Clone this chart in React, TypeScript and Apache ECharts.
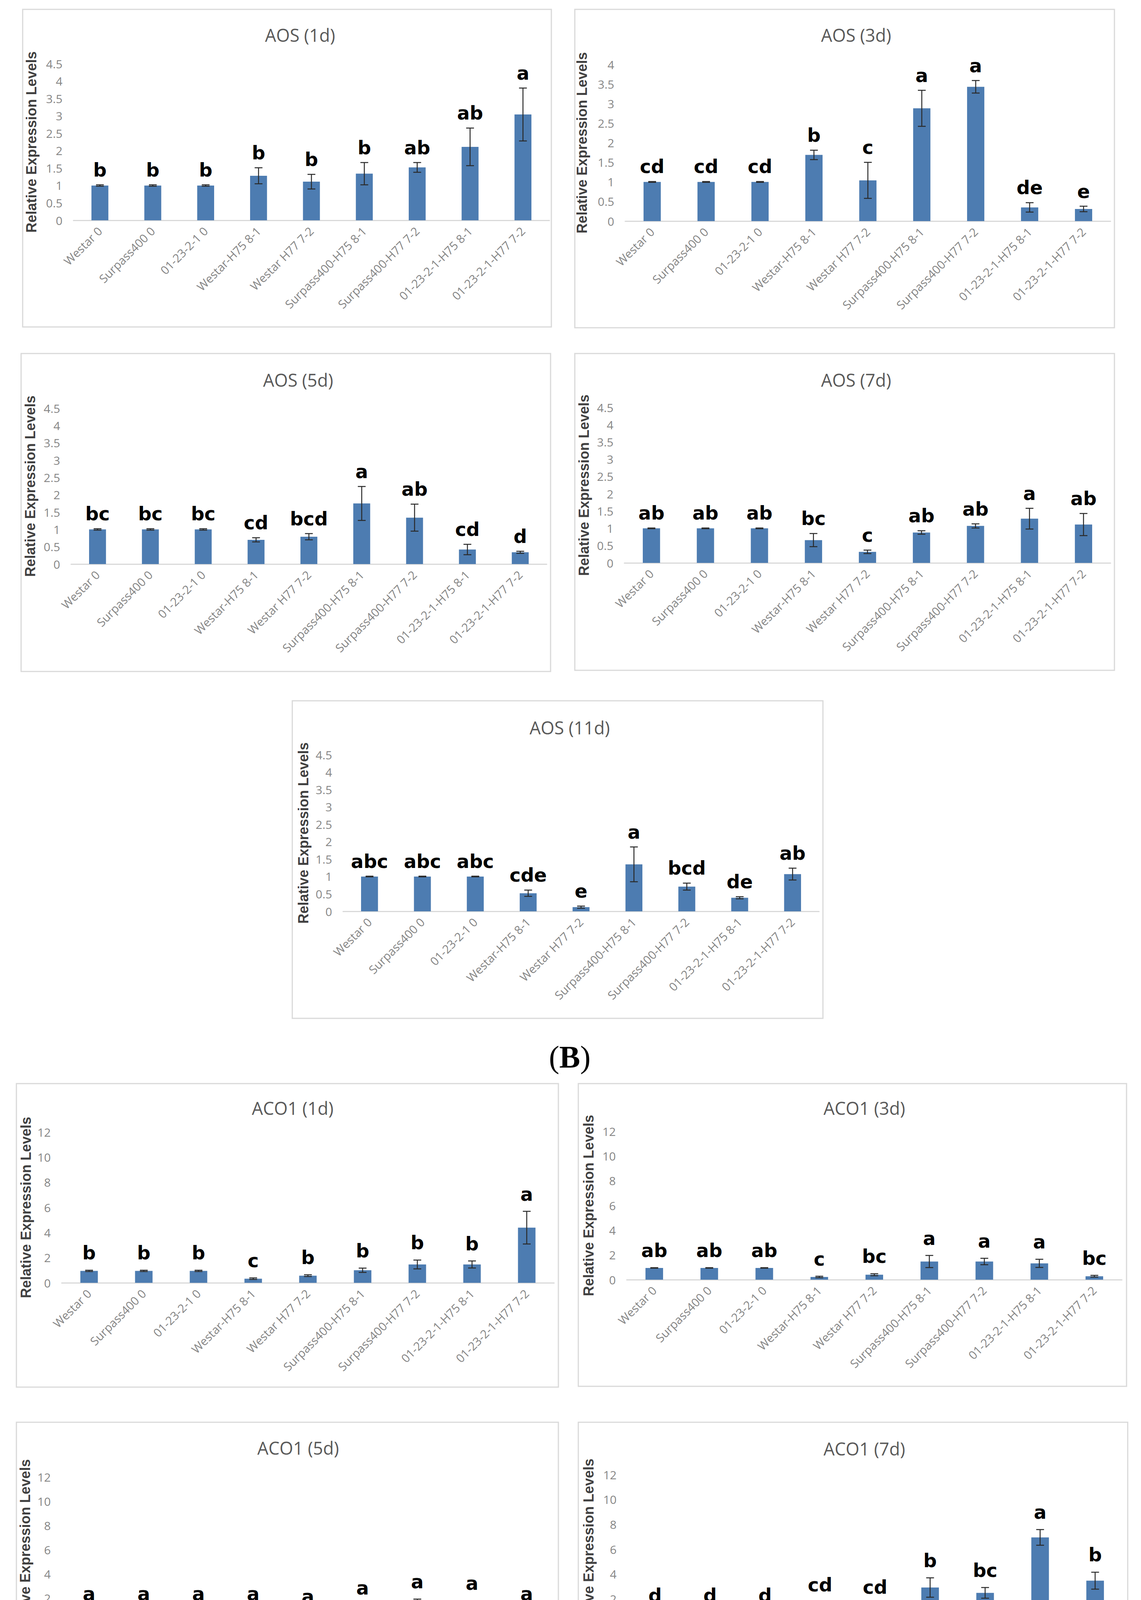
import React, { useEffect, useRef } from 'react';
import * as echarts from 'echarts';

// ---------- data ----------
const categories = [
  'Westar 0',
  'Surpass400 0',
  '01-23-2-1 0',
  'Westar-H75 8-1',
  'Westar H77 7-2',
  'Surpass400-H75 8-1',
  'Surpass400-H77 7-2',
  '01-23-2-1-H75 8-1',
  '01-23-2-1-H77 7-2',
];

const yTitle = 'Relative Expression Levels';

const aos1dMean = [1.0, 1.0, 1.0, 1.28, 1.11, 1.34, 1.52, 2.11, 3.04];
const aos1dErr = [0.02, 0.02, 0.02, 0.23, 0.21, 0.32, 0.14, 0.54, 0.76];
const aos1dLetters = ['b', 'b', 'b', 'b', 'b', 'b', 'ab', 'ab', 'a'];

const aos3dMean = [1.0, 1.0, 1.0, 1.69, 1.04, 2.88, 3.43, 0.35, 0.31];
const aos3dErr = [0.01, 0.01, 0.01, 0.12, 0.46, 0.46, 0.16, 0.12, 0.07];
const aos3dLetters = ['cd', 'cd', 'cd', 'b', 'c', 'a', 'a', 'de', 'e'];

const aos5dMean = [1.0, 1.0, 1.0, 0.7, 0.79, 1.75, 1.34, 0.42, 0.34];
const aos5dErr = [0.02, 0.02, 0.02, 0.06, 0.09, 0.49, 0.39, 0.15, 0.03];
const aos5dLetters = ['bc', 'bc', 'bc', 'cd', 'bcd', 'a', 'ab', 'cd', 'd'];

const aos7dMean = [1.0, 1.0, 1.0, 0.66, 0.32, 0.88, 1.07, 1.28, 1.11];
const aos7dErr = [0.01, 0.01, 0.01, 0.19, 0.05, 0.05, 0.06, 0.3, 0.32];
const aos7dLetters = ['ab', 'ab', 'ab', 'bc', 'c', 'ab', 'ab', 'a', 'ab'];

const aos11dMean = [1.0, 1.0, 1.0, 0.52, 0.12, 1.35, 0.71, 0.39, 1.07];
const aos11dErr = [0.01, 0.01, 0.01, 0.09, 0.03, 0.5, 0.1, 0.03, 0.17];
const aos11dLetters = ['abc', 'abc', 'abc', 'cde', 'e', 'a', 'bcd', 'de', 'ab'];

const aco1dMean = [0.95, 0.95, 0.95, 0.33, 0.57, 1.0, 1.46, 1.46, 4.39];
const aco1dErr = [0.05, 0.05, 0.05, 0.06, 0.07, 0.17, 0.35, 0.28, 1.3];
const aco1dLetters = ['b', 'b', 'b', 'c', 'b', 'b', 'b', 'b', 'a'];

const aco3dMean = [0.95, 0.95, 0.95, 0.22, 0.4, 1.47, 1.47, 1.32, 0.28];
const aco3dErr = [0.02, 0.02, 0.02, 0.06, 0.08, 0.49, 0.26, 0.33, 0.07];
const aco3dLetters = ['ab', 'ab', 'ab', 'c', 'bc', 'a', 'a', 'a', 'bc'];

const aco5dMean = [0.92, 0.92, 0.92, 0.74, 0.55, 1.14, 1.25, 1.33, 0.74];
const aco5dErr = [0.04, 0.04, 0.04, 0.22, 0.19, 0.28, 0.69, 0.48, 0.22];
const aco5dLetters = ['a', 'a', 'a', 'a', 'a', 'a', 'a', 'a', 'a'];

const aco7dMean = [0.87, 0.87, 0.87, 1.32, 1.44, 2.92, 2.49, 6.95, 3.47];
const aco7dErr = [0.04, 0.04, 0.04, 0.43, 0.11, 0.78, 0.43, 0.63, 0.68];
const aco7dLetters = ['d', 'd', 'd', 'cd', 'cd', 'b', 'bc', 'a', 'b'];

const aco11dMean = [1.0, 1.0, 1.0, 1.19, 0.69, 3.65, 0.64, 2.64, 9.32];
const aco11dErr = [0.01, 0.01, 0.01, 0.51, 0.22, 0.33, 0.03, 0.52, 2.17];
const aco11dLetters = ['c', 'c', 'c', 'c', 'c', 'b', 'c', 'bc', 'a'];

const panels = [
  { title: 'AOS (1d)', mean: aos1dMean, err: aos1dErr, letters: aos1dLetters, yMax: 4.5, yStep: 0.5 },
  { title: 'AOS (3d)', mean: aos3dMean, err: aos3dErr, letters: aos3dLetters, yMax: 4, yStep: 0.5 },
  { title: 'AOS (5d)', mean: aos5dMean, err: aos5dErr, letters: aos5dLetters, yMax: 4.5, yStep: 0.5 },
  { title: 'AOS (7d)', mean: aos7dMean, err: aos7dErr, letters: aos7dLetters, yMax: 4.5, yStep: 0.5 },
  { title: 'AOS (11d)', mean: aos11dMean, err: aos11dErr, letters: aos11dLetters, yMax: 4.5, yStep: 0.5 },
  { title: 'ACO1 (1d)', mean: aco1dMean, err: aco1dErr, letters: aco1dLetters, yMax: 12, yStep: 2 },
  { title: 'ACO1 (3d)', mean: aco3dMean, err: aco3dErr, letters: aco3dLetters, yMax: 12, yStep: 2 },
  { title: 'ACO1 (5d)', mean: aco5dMean, err: aco5dErr, letters: aco5dLetters, yMax: 12, yStep: 2 },
  { title: 'ACO1 (7d)', mean: aco7dMean, err: aco7dErr, letters: aco7dLetters, yMax: 12, yStep: 2 },
  { title: 'ACO1 (11d)', mean: aco11dMean, err: aco11dErr, letters: aco11dLetters, yMax: 12, yStep: 2 },
];

const figureLabels = [
  { letter: 'B' },
  { letter: 'C' },
];

// ---------- layout (pixels) ----------
const PAGE_W = 2920;
const PAGE_H = 5436;

// box: panel frame [x1,y1,x2,y2]; plot: grid [x1,y1,x2,y2]; titleAt: [cx, cy]
const frames = [
  { box: [58, 24, 1411, 837], plot: [188, 163, 1406, 564], titleAt: [768, 89], nameOffset: 109, letterLift: 24 },
  { box: [1471, 24, 2852, 839], plot: [1600, 165, 2842, 566], titleAt: [2191, 89], nameOffset: 112, letterLift: 24 },
  { box: [54, 905, 1409, 1719], plot: [182, 1045, 1399, 1444], titleAt: [763, 972], nameOffset: 106, letterLift: 24 },
  { box: [1471, 905, 2852, 1716], plot: [1598, 1043, 2842, 1441], titleAt: [2191, 972], nameOffset: 105, letterLift: 24 },
  { box: [748, 1794, 2106, 2607], plot: [878, 1932, 2096, 2333], titleAt: [1458, 1862], nameOffset: 103, letterLift: 24 },
  { box: [42, 2774, 1429, 3551], plot: [158, 2898, 1418, 3284], titleAt: [749, 2836], nameOffset: 93, letterLift: 30 },
  { box: [1480, 2774, 2883, 3549], plot: [1604, 2896, 2871, 3276], titleAt: [2212, 2836], nameOffset: 99, letterLift: 30 },
  { box: [42, 3641, 1429, 4415], plot: [158, 3781, 1418, 4154], titleAt: [763, 3706], nameOffset: 95, letterLift: 30 },
  { box: [1480, 3641, 2886, 4418], plot: [1606, 3775, 2873, 4157], titleAt: [2212, 3708], nameOffset: 101, letterLift: 30 },
  { box: [738, 4509, 2131, 5289], plot: [864, 4645, 2122, 5023], titleAt: [1470, 4573], nameOffset: 97, letterLift: 30 },
];

const figureLabelAt = [
  [1458, 2706],
  [1468, 5373],
];

const BAR_COLOR = '#4d7cb1';
const ERR_COLOR = '#2a2a2a';
const FRAME_COLOR = '#d9d9d9';
const LETTER_SIZE = 48;

function buildOption() {
  const grid = frames.map((f) => ({
    left: f.plot[0],
    top: f.plot[1],
    width: f.plot[2] - f.plot[0],
    height: f.plot[3] - f.plot[1],
    containLabel: false,
  }));

  const xAxis = panels.map((p, i) => ({
    type: 'category',
    gridIndex: i,
    data: categories,
    axisLine: { show: true, lineStyle: { color: FRAME_COLOR, width: 3 } },
    axisTick: { show: false },
    axisLabel: {
      interval: 0,
      rotate: 45,
      margin: 22,
      color: '#858585',
      fontSize: 30,
      fontFamily: 'Open Sans',
    },
    splitLine: { show: false },
  }));

  const yAxis = panels.map((p, i) => ({
    type: 'value',
    gridIndex: i,
    min: 0,
    max: p.yMax,
    interval: p.yStep,
    axisLine: { show: false },
    axisTick: { show: false },
    splitLine: { show: false },
    axisLabel: {
      margin: 28,
      color: '#858585',
      fontSize: 30,
      fontFamily: 'Open Sans',
    },
    name: yTitle,
    nameLocation: 'middle',
    nameGap: frames[i].nameOffset - 19,
    nameTextStyle: {
      fontSize: 36,
      fontWeight: 'bold',
      color: '#404040',
      fontFamily: 'Liberation Sans',
    },
  }));

  const series: any[] = [];
  panels.forEach((p, i) => {
    series.push({
      type: 'bar',
      xAxisIndex: i,
      yAxisIndex: i,
      data: p.mean,
      barWidth: '32%',
      itemStyle: { color: BAR_COLOR },
      silent: true,
      z: 2,
    });
    const lift = frames[i].letterLift;
    series.push({
      type: 'custom',
      xAxisIndex: i,
      yAxisIndex: i,
      data: p.mean.map((m, j) => [j, m, p.err[j]]),
      encode: { x: 0, y: 1 },
      silent: true,
      z: 3,
      clip: false,
      renderItem: (params: any, api: any) => {
        const x = api.value(0);
        const m = api.value(1);
        const e = api.value(2);
        const top = api.coord([x, m + e]);
        const bot = api.coord([x, Math.max(0, m - e)]);
        const cap = 10;
        const lineStyle = { stroke: ERR_COLOR, lineWidth: 2.5 };
        const letter = p.letters[params.dataIndex];
        return {
          type: 'group',
          children: [
            { type: 'line', shape: { x1: top[0], y1: top[1], x2: bot[0], y2: bot[1] }, style: lineStyle },
            { type: 'line', shape: { x1: top[0] - cap, y1: top[1], x2: top[0] + cap, y2: top[1] }, style: lineStyle },
            { type: 'line', shape: { x1: bot[0] - cap, y1: bot[1], x2: bot[0] + cap, y2: bot[1] }, style: lineStyle },
            {
              type: 'text',
              x: top[0],
              y: top[1] - lift - LETTER_SIZE * 0.3,
              style: {
                text: letter,
                fill: '#000000',
                font: `bold ${LETTER_SIZE}px "DejaVu Sans"`,
                align: 'center',
                verticalAlign: 'middle',
                textAlign: 'center',
                textVerticalAlign: 'middle',
              },
            },
          ],
        };
      },
    });
  });

  const graphic: any[] = [];
  frames.forEach((f, i) => {
    graphic.push({
      type: 'rect',
      silent: true,
      z: 0,
      shape: { x: f.box[0], y: f.box[1], width: f.box[2] - f.box[0], height: f.box[3] - f.box[1] },
      style: { fill: 'none', stroke: FRAME_COLOR, lineWidth: 3 },
    });
    graphic.push({
      type: 'text',
      silent: true,
      x: f.titleAt[0],
      y: f.titleAt[1],
      style: {
        text: panels[i].title,
        font: '45px "Open Sans"',
        fill: '#595959',
        align: 'center',
        verticalAlign: 'middle',
        textAlign: 'center',
        textVerticalAlign: 'middle',
      },
    });
  });
  figureLabels.forEach((fl, i) => {
    graphic.push({
      type: 'text',
      silent: true,
      x: figureLabelAt[i][0],
      y: figureLabelAt[i][1],
      style: {
        text: `{p|(}{b|${fl.letter}}{p|)}`,
        rich: {
          p: { font: '80px "Liberation Serif"', fill: '#000000' },
          b: { font: 'bold 80px "Liberation Serif"', fill: '#000000' },
        },
        align: 'center',
        verticalAlign: 'middle',
        textAlign: 'center',
        textVerticalAlign: 'middle',
      },
    });
  });

  return {
    animation: false,
    backgroundColor: '#ffffff',
    grid,
    xAxis,
    yAxis,
    series,
    graphic,
  };
}

export default function App() {
  const ref = useRef<HTMLDivElement>(null);
  useEffect(() => {
    if (!ref.current) return;
    const chart = echarts.init(ref.current, undefined, { renderer: 'svg', width: PAGE_W, height: PAGE_H });
    chart.setOption(buildOption() as any);
    return () => chart.dispose();
  }, []);
  return (
    <div
      ref={ref}
      style={{ position: 'absolute', left: 0, top: 0, width: PAGE_W, height: PAGE_H, background: '#ffffff' }}
    />
  );
}
